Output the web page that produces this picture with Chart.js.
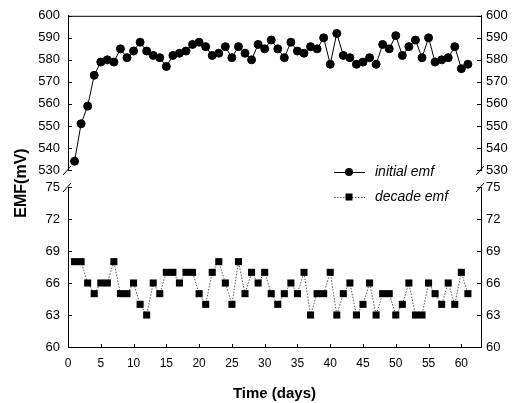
<!DOCTYPE html>
<html>
<head>
<meta charset="utf-8">
<script src="https://cdn.jsdelivr.net/npm/chart.js@4"></script>
<style>
  body { margin: 0; background: #fff; }
  #marco { position: relative; width: 520px; height: 403px; }
  canvas { position: absolute; left: 0; top: 0; }
</style>
</head>
<body>
<div id="marco">
  <canvas id="graficaArriba" width="520" height="403"></canvas>
  <canvas id="graficaAbajo" width="520" height="403"></canvas>
</div>
<script>
// datos
const days = [1,2,3,4,5,6,7,8,9,10,11,12,13,14,15,16,17,18,19,20,21,22,23,24,25,26,27,28,29,30,
              31,32,33,34,35,36,37,38,39,40,41,42,43,44,45,46,47,48,49,50,51,52,53,54,55,56,57,58,59,60,61];
const initialEmf = [534,551,559,573,579,580,579,585,581,584,588,584,582,581,577,582,583,584,587,588,
                    586,582,583,586,581,586,583,580,587,585,589,585,581,588,584,583,586,585,590,578,
                    592,582,581,578,579,581,578,587,585,591,582,586,589,581,590,579,580,581,586,576,578];
const decadeEmf = [68,68,66,65,66,66,68,65,65,66,64,63,66,65,67,67,66,67,67,65,
                   64,67,68,66,64,68,65,67,66,67,65,64,65,66,65,67,63,65,65,67,
                   63,65,66,63,64,66,63,65,65,63,64,66,63,63,66,65,64,66,64,67,65];
const upperTicks = [530, 540, 550, 560, 570, 580, 590, 600];
const lowerTicks = [60, 63, 66, 69, 72, 75];
const dayTicks = [0, 5, 10, 15, 20, 25, 30, 35, 40, 45, 50, 55, 60];

const fuente = 'Liberation Sans, Arial, sans-serif';
Chart.defaults.font.family = fuente;
Chart.defaults.color = '#000';

function ejeY(lista, lado, ancho, pad) {
    return {
        position: lado,
        min: lista[0],
        max: lista[lista.length - 1],
        afterBuildTicks: s => { s.ticks = lista.map(v => ({ value: v })); },
        afterFit: s => { s.width = ancho; },
        grid: { drawOnChartArea: false, drawTicks: false },
        border: { display: true, color: '#000', width: 1 },
        ticks: { padding: pad, font: { size: 13 }, color: '#000' }
    };
}

// marcas hacia adentro, cortes del eje y leyenda
const adornos = {
    id: 'adornos',
    afterDraw(chart, args, opts) {
        const { ctx, chartArea: a } = chart;
        const y = chart.scales.y;
        ctx.save();
        ctx.strokeStyle = '#000';
        ctx.lineWidth = 1;
        ctx.beginPath();
        y.ticks.forEach(t => {
            const py = Math.round(y.getPixelForValue(t.value)) + 0.5;
            ctx.moveTo(a.left, py); ctx.lineTo(a.left + 4, py);
            ctx.moveTo(a.right - 4, py); ctx.lineTo(a.right, py);
        });
        if (opts.abajo) {
            const x = chart.scales.x;
            dayTicks.forEach(d => {
                const px = Math.round(x.getPixelForValue(d)) + 0.5;
                ctx.moveTo(px, a.bottom); ctx.lineTo(px, a.bottom - 3);
            });
        } else {
            ctx.moveTo(a.left, a.top + 0.5); ctx.lineTo(a.right, a.top + 0.5);
        }
        // cortes
        const yc = opts.abajo ? a.top : a.bottom;
        [a.left, a.right].forEach(xc => {
            ctx.moveTo(xc - 5, yc + 5); ctx.lineTo(xc + 3, yc - 4);
        });
        ctx.stroke();

        if (opts.abajo) {
            // titulo del eje y
            ctx.save();
            ctx.translate(22, a.top - 4);
            ctx.rotate(-Math.PI / 2);
            ctx.font = 'bold 16px ' + fuente;
            ctx.textAlign = 'center';
            ctx.textBaseline = 'middle';
            ctx.fillStyle = '#000';
            ctx.fillText('EMF(mV)', 0, 0);
            ctx.restore();

            // leyenda
            const filas = [
                { texto: 'initial emf', y: a.top - 15, dash: [], forma: 'circulo' },
                { texto: 'decade emf', y: a.top + 10, dash: [1.5, 1.5], forma: 'cuadro' }
            ];
            filas.forEach(f => {
                ctx.beginPath();
                ctx.setLineDash(f.dash);
                ctx.strokeStyle = f.dash.length ? '#555' : '#000';
                ctx.moveTo(334, f.y + 0.5); ctx.lineTo(365, f.y + 0.5);
                ctx.stroke();
                ctx.setLineDash([]);
                ctx.fillStyle = '#000';
                ctx.beginPath();
                if (f.forma === 'circulo') ctx.arc(349, f.y, 4, 0, Math.PI * 2);
                else ctx.rect(345.5, f.y - 3.5, 7, 7);
                ctx.fill();
                ctx.font = 'italic 14px ' + fuente;
                ctx.textAlign = 'left';
                ctx.textBaseline = 'middle';
                ctx.fillText(f.texto, 375, f.y);
            });
        }
        ctx.restore();
    }
};

new Chart(document.getElementById('graficaArriba'), {
    type: 'line',
    data: {
        datasets: [{
            label: 'initial emf',
            data: days.map((d, i) => ({ x: d, y: initialEmf[i] })),
            borderColor: '#000',
            borderWidth: 1,
            pointStyle: 'circle',
            pointRadius: 4,
            pointBackgroundColor: '#000',
            pointBorderColor: '#000',
            tension: 0
        }]
    },
    options: {
        responsive: false,
        animation: false,
        layout: { padding: { top: 11, bottom: 233, left: 0, right: 0 } },
        plugins: { legend: { display: false }, tooltip: { enabled: false }, adornos: { abajo: false } },
        scales: {
            x: { type: 'linear', min: 0, max: 63, display: false },
            y: ejeY(upperTicks, 'left', 68, 8),
            y2: ejeY(upperTicks, 'right', 39, 5)
        }
    },
    plugins: [adornos]
});

new Chart(document.getElementById('graficaAbajo'), {
    type: 'line',
    data: {
        datasets: [{
            label: 'decade emf',
            data: days.map((d, i) => ({ x: d, y: decadeEmf[i] })),
            borderColor: '#555',
            borderWidth: 1,
            borderDash: [1.5, 1.5],
            pointStyle: 'rect',
            pointRadius: 5,
            pointBackgroundColor: '#000',
            pointBorderColor: '#000',
            pointBorderWidth: 0,
            tension: 0
        }]
    },
    options: {
        responsive: false,
        animation: false,
        layout: { padding: { top: 187, bottom: 0, left: 0, right: 0 } },
        plugins: { legend: { display: false }, tooltip: { enabled: false }, adornos: { abajo: true } },
        scales: {
            x: {
                type: 'linear',
                min: 0,
                max: 63,
                afterBuildTicks: s => { s.ticks = dayTicks.map(v => ({ value: v })); },
                afterFit: s => { s.height = 56; },
                grid: { drawOnChartArea: false, drawTicks: false },
                border: { display: true, color: '#000', width: 1 },
                ticks: { padding: 9, font: { size: 12 }, color: '#000' },
                title: { display: true, text: 'Time (days)', font: { size: 15, weight: 'bold' }, padding: { top: 4, bottom: 0 }, color: '#000' }
            },
            y: ejeY(lowerTicks, 'left', 68, 8),
            y2: ejeY(lowerTicks, 'right', 39, 5)
        }
    },
    plugins: [adornos]
});
</script>
</body>
</html>
